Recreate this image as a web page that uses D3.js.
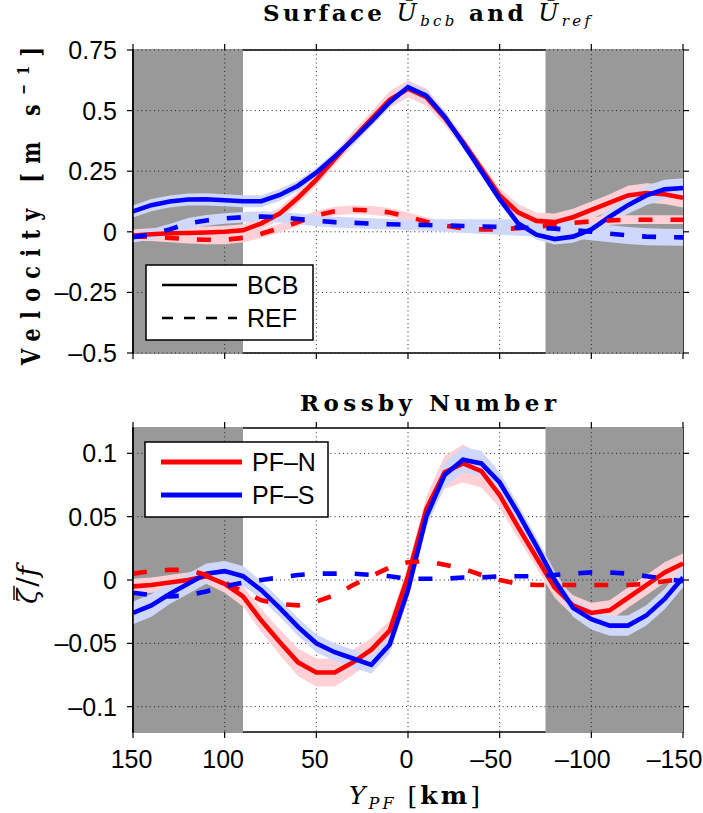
<!DOCTYPE html>
<html><head><meta charset="utf-8">
<script src="https://cdn.jsdelivr.net/npm/d3@7"></script>
<style>body{margin:0;background:#fff}</style>
</head><body>
<svg id="chart" width="703" height="813"></svg>
<script>
// ---------- data ----------
const yPF = [150,140,130,120,110,100,90,80,70,60,50,40,30,20,10,0,-10,-20,-30,-40,-50,-60,-70,-80,-90,-100,-110,-120,-130,-140,-150];

// Surface velocity (m/s)
const velBcbN = [-0.015,-0.01,-0.006,-0.005,-0.003,0.0,0.006,0.035,0.075,0.14,0.215,0.3,0.385,0.465,0.545,0.59,0.555,0.47,0.37,0.26,0.15,0.08,0.045,0.04,0.06,0.09,0.12,0.15,0.16,0.155,0.14];
const velBcbS = [0.084,0.11,0.125,0.133,0.134,0.13,0.126,0.126,0.152,0.19,0.244,0.31,0.38,0.455,0.535,0.597,0.562,0.475,0.365,0.25,0.135,0.035,-0.012,-0.03,-0.02,0.01,0.062,0.11,0.15,0.175,0.181];
const velRefN = [-0.02,-0.02,-0.025,-0.03,-0.033,-0.033,-0.025,-0.008,0.015,0.04,0.068,0.085,0.091,0.088,0.08,0.062,0.042,0.025,0.015,0.01,0.01,0.015,0.02,0.028,0.037,0.043,0.047,0.05,0.05,0.05,0.05];
const velRefS = [-0.022,-0.01,0.01,0.035,0.047,0.055,0.06,0.063,0.06,0.053,0.045,0.04,0.037,0.034,0.031,0.029,0.028,0.026,0.024,0.022,0.02,0.018,0.016,0.013,0.007,0.0,-0.008,-0.015,-0.02,-0.022,-0.023];
const velBcbNErr = [0.025,0.025,0.025,0.025,0.025,0.025,0.025,0.025,0.025,0.025,0.025,0.025,0.03,0.03,0.035,0.035,0.035,0.03,0.025,0.025,0.03,0.035,0.035,0.035,0.035,0.035,0.035,0.04,0.04,0.04,0.04];
const velBcbSErr = [0.025,0.025,0.025,0.025,0.025,0.025,0.025,0.025,0.025,0.022,0.02,0.02,0.02,0.02,0.02,0.022,0.022,0.02,0.02,0.02,0.02,0.02,0.02,0.022,0.025,0.028,0.032,0.036,0.04,0.04,0.04];
const velRefNErr = [0.018,0.018,0.018,0.018,0.018,0.018,0.018,0.018,0.018,0.018,0.018,0.018,0.018,0.018,0.018,0.018,0.018,0.018,0.018,0.018,0.018,0.018,0.018,0.018,0.018,0.018,0.018,0.018,0.018,0.018,0.018];
const velRefSErr = [0.022,0.022,0.022,0.022,0.022,0.022,0.022,0.022,0.022,0.022,0.022,0.022,0.022,0.022,0.022,0.022,0.024,0.026,0.028,0.03,0.032,0.034,0.035,0.035,0.035,0.035,0.035,0.035,0.035,0.035,0.035];

// Rossby number
const roBcbN = [-0.005,-0.004,-0.002,0.0,0.003,-0.003,-0.013,-0.032,-0.049,-0.065,-0.073,-0.073,-0.065,-0.055,-0.040,0.003,0.056,0.085,0.092,0.086,0.067,0.042,0.018,-0.006,-0.020,-0.026,-0.024,-0.014,-0.004,0.006,0.013];
const roBcbS = [-0.026,-0.020,-0.011,-0.003,0.005,0.007,0.003,-0.008,-0.022,-0.037,-0.050,-0.057,-0.062,-0.067,-0.051,-0.008,0.05,0.083,0.095,0.092,0.077,0.053,0.027,0.0,-0.022,-0.031,-0.036,-0.036,-0.028,-0.015,0.002];
const roRefN = [0.005,0.007,0.008,0.008,0.004,-0.002,-0.009,-0.016,-0.019,-0.020,-0.017,-0.012,-0.004,0.003,0.010,0.014,0.015,0.012,0.009,0.004,0.000,-0.003,-0.004,-0.004,-0.004,-0.004,-0.004,-0.004,-0.003,-0.001,0.001];
const roRefS = [-0.010,-0.012,-0.013,-0.012,-0.009,-0.005,-0.002,0.000,0.002,0.004,0.005,0.005,0.005,0.004,0.003,0.001,0.001,0.001,0.002,0.002,0.003,0.003,0.003,0.004,0.005,0.006,0.006,0.005,0.003,0.001,-0.001];
const roBcbNErr = [0.006,0.006,0.006,0.006,0.006,0.007,0.008,0.009,0.01,0.011,0.011,0.011,0.01,0.009,0.008,0.008,0.01,0.013,0.015,0.013,0.01,0.009,0.008,0.008,0.008,0.008,0.008,0.008,0.008,0.008,0.008];
const roBcbSErr = [0.009,0.009,0.008,0.008,0.008,0.008,0.008,0.007,0.007,0.007,0.007,0.007,0.007,0.007,0.007,0.007,0.008,0.01,0.01,0.01,0.008,0.007,0.007,0.007,0.007,0.008,0.008,0.008,0.008,0.008,0.008];

const xTicks = [150,100,50,0,-50,-100,-150];
const velTicks = [-0.5,-0.25,0,0.25,0.5,0.75];
const roTicks = [-0.1,-0.05,0,0.05,0.1];
const shadeRanges = [[150,90],[-75,-150]];
const legendTopLabels = ["BCB","REF"];
const legendBottomLabels = ["PF\u2013N","PF\u2013S"];

// ---------- drawing ----------
const svg = d3.select("#chart");
const RED = "#ff0000", BLUE = "#0000ff";
const RED_BAND = "#ffd0d5", BLUE_BAND = "#cfd8fb";
const xScale = d3.scaleLinear().domain([150,-150]).range([133,683]);
const fmt = d => d < 0 ? "\u2013" + Math.abs(d) : String(d);
const SANS = "'Liberation Sans', Arial, Helvetica, sans-serif";
const SERIF = "'DejaVu Serif', 'Liberation Serif', serif";

function drawPanel(cfg) {
  const x = xScale;
  const y = d3.scaleLinear().domain(cfg.domain).range([cfg.bottom, cfg.top]);
  const g = svg.append("g");
  const L = x.range()[0], R = x.range()[1], T = cfg.top, B = cfg.bottom;

  g.append("rect").attr("x", L).attr("y", T).attr("width", R - L).attr("height", B - T)
    .attr("fill", "#fff").attr("stroke", "#000").attr("stroke-width", 1.5);

  shadeRanges.forEach(r => {
    const x0 = Math.max(x(r[0]), L + 1), x1 = Math.min(x(r[1]), R + 1);
    g.append("rect").attr("x", x0).attr("y", T - 1).attr("width", x1 - x0).attr("height", B - T + 2)
      .attr("fill", "#999999");
  });

  const grid = g.append("g").attr("stroke", "#222").attr("stroke-width", 1).attr("stroke-dasharray", "1,3.2");
  xTicks.forEach(t => { if (t !== 150 && t !== -150)
    grid.append("line").attr("x1", x(t)).attr("x2", x(t)).attr("y1", T).attr("y2", B); });
  cfg.ticks.forEach(t => {
    grid.append("line").attr("x1", L).attr("x2", R).attr("y1", y(t)).attr("y2", y(t)); });

  const tk = g.append("g").attr("stroke", "#000").attr("stroke-width", 1.2);
  xTicks.forEach(t => {
    tk.append("line").attr("x1", x(t)).attr("x2", x(t)).attr("y1", T).attr("y2", T - 6);
    tk.append("line").attr("x1", x(t)).attr("x2", x(t)).attr("y1", B).attr("y2", B + 6);
  });
  cfg.ticks.forEach(t => {
    tk.append("line").attr("x1", L).attr("x2", L - 6).attr("y1", y(t)).attr("y2", y(t));
    tk.append("line").attr("x1", R).attr("x2", R + 6).attr("y1", y(t)).attr("y2", y(t));
  });

  g.append("g").selectAll("text").data(cfg.ticks).join("text")
    .attr("x", 117).attr("y", d => y(d) + 9).attr("text-anchor", "end")
    .attr("font-family", SANS).attr("font-size", 25).text(fmt);
  if (cfg.xLabels) {
    g.append("g").selectAll("text").data(xTicks).join("text")
      .attr("x", d => x(d) + String(Math.abs(d)).length * 13.9 / 2 - 1.5)
      .attr("y", B + 36).attr("text-anchor", "end")
      .attr("font-family", SANS).attr("font-size", 25).text(fmt);
  }

  const clipId = "clip" + cfg.top;
  svg.append("clipPath").attr("id", clipId).append("rect")
    .attr("x", L).attr("y", T).attr("width", R - L).attr("height", B - T);
  const sg = g.append("g").attr("clip-path", `url(#${clipId})`);
  cfg.series.forEach(s => {
    if (!s.err) return;
    const area = d3.area().x((d, i) => x(yPF[i]))
      .y0((d, i) => y(d - s.err[i])).y1((d, i) => y(d + s.err[i]));
    sg.append("path").datum(s.values).attr("d", area)
      .attr("fill", s.color === RED ? RED_BAND : BLUE_BAND);
  });
  cfg.series.forEach(s => {
    const line = d3.line().x((d, i) => x(yPF[i])).y(d => y(d));
    sg.append("path").datum(s.values).attr("d", line).attr("fill", "none")
      .attr("stroke", s.color).attr("stroke-width", 4.6)
      .attr("stroke-dasharray", s.dash ? "14,18" : null);
  });

  g.append("line").attr("x1", L).attr("x2", L).attr("y1", T).attr("y2", B)
    .attr("stroke", "#000").attr("stroke-width", 1.5);
  return y;
}

drawPanel({
  top: 50, bottom: 353, domain: [-0.5, 0.75], ticks: velTicks, xLabels: false,
  series: [
    { values: velBcbN, err: velBcbNErr, color: RED },
    { values: velBcbS, err: velBcbSErr, color: BLUE },
    { values: velRefN, err: velRefNErr, color: RED, dash: true },
    { values: velRefS, err: velRefSErr, color: BLUE, dash: true }
  ]
});

drawPanel({
  top: 428, bottom: 732, domain: [-0.12, 0.12], ticks: roTicks, xLabels: true,
  series: [
    { values: roBcbN, err: roBcbNErr, color: RED },
    { values: roBcbS, err: roBcbSErr, color: BLUE },
    { values: roRefN, color: RED, dash: true },
    { values: roRefS, color: BLUE, dash: true }
  ]
});

function legend(x0, y0, w, h, items) {
  const lg = svg.append("g");
  lg.append("rect").attr("x", x0).attr("y", y0).attr("width", w).attr("height", h)
    .attr("fill", "#fff").attr("stroke", "#000").attr("stroke-width", 1.5);
  items.forEach((it, i) => {
    const yy = y0 + 20 + i * 33;
    lg.append("line").attr("x1", x0 + 16).attr("x2", x0 + it.len).attr("y1", yy).attr("y2", yy)
      .attr("stroke", it.color).attr("stroke-width", it.width)
      .attr("stroke-dasharray", it.dash || null);
    lg.append("text").attr("x", x0 + it.len + 10).attr("y", yy + 9)
      .attr("font-family", SANS).attr("font-size", 25).text(it.label);
  });
}
legend(146, 265, 167, 75, [
  { label: legendTopLabels[0], color: "#000", width: 2.5, len: 91 },
  { label: legendTopLabels[1], color: "#000", width: 2.5, len: 91, dash: "11,11" }
]);
legend(145, 442, 183, 75, [
  { label: legendBottomLabels[0], color: RED, width: 5, len: 97 },
  { label: legendBottomLabels[1], color: BLUE, width: 5, len: 97 }
]);

// titles
const t1 = svg.append("text").attr("x", 263).attr("y", 21)
  .attr("font-family", SERIF).attr("font-size", 23).attr("font-weight", "bold")
  .attr("textLength", 327).attr("lengthAdjust", "spacing");
t1.append("tspan").text("Surface ");
t1.append("tspan").attr("font-style", "italic").attr("font-weight", "normal").attr("font-size", 24).text("U\u0304");
t1.append("tspan").attr("font-style", "italic").attr("font-weight", "normal").attr("font-size", 15).attr("dy", 5).text("bcb");
t1.append("tspan").attr("dy", -5).text(" and ");
t1.append("tspan").attr("font-style", "italic").attr("font-weight", "normal").attr("font-size", 24).text("U\u0304");
t1.append("tspan").attr("font-style", "italic").attr("font-weight", "normal").attr("font-size", 15).attr("dy", 5).text("ref");

svg.append("text").attr("x", 300).attr("y", 411)
  .attr("font-family", SERIF).attr("font-size", 23).attr("font-weight", "bold")
  .attr("textLength", 256).attr("lengthAdjust", "spacing").text("Rossby Number");

// y labels (glyphs taller across, as in the reference)
const yl1 = svg.append("text").attr("transform", "translate(40,206) rotate(-90) scale(0.8,1)")
  .attr("text-anchor", "middle").attr("font-family", SERIF).attr("font-size", 26)
  .attr("font-weight", "bold").attr("textLength", 318 / 0.8).attr("lengthAdjust", "spacing");
yl1.append("tspan").text("Velocity [m s");
yl1.append("tspan").attr("font-size", 16).attr("dy", -11).text("\u22121");
yl1.append("tspan").attr("dy", 11).text("]");

const yg2 = svg.append("g").attr("transform", "translate(37,585) rotate(-90)");
const yl2 = yg2.append("text").attr("text-anchor", "middle")
  .attr("font-family", SERIF).attr("font-size", 28);
yl2.append("tspan").attr("font-style", "italic").text("\u03B6");
yl2.append("tspan").attr("dx", 2).text("/");
yl2.append("tspan").attr("dx", 1).attr("font-style", "italic").text("f");
{
  const n = yl2.node();
  const s0 = n.getStartPositionOfChar(0).x, e0 = n.getEndPositionOfChar(0).x;
  yg2.append("line").attr("x1", s0 + 4).attr("x2", e0 + 3).attr("y1", -23).attr("y2", -23)
    .attr("stroke", "#000").attr("stroke-width", 1.4);
}

// x label
const xl = svg.append("text").attr("x", 349).attr("y", 804)
  .attr("font-family", SERIF).attr("font-size", 25)
  .attr("textLength", 131).attr("lengthAdjust", "spacing");
xl.append("tspan").attr("font-style", "italic").text("Y");
xl.append("tspan").attr("font-style", "italic").attr("font-size", 16).attr("dy", 5).text("PF");
xl.append("tspan").attr("dy", -5).text(" [");
xl.append("tspan").attr("font-weight", "bold").text("km");
xl.append("tspan").text("]");
</script>
</body></html>
